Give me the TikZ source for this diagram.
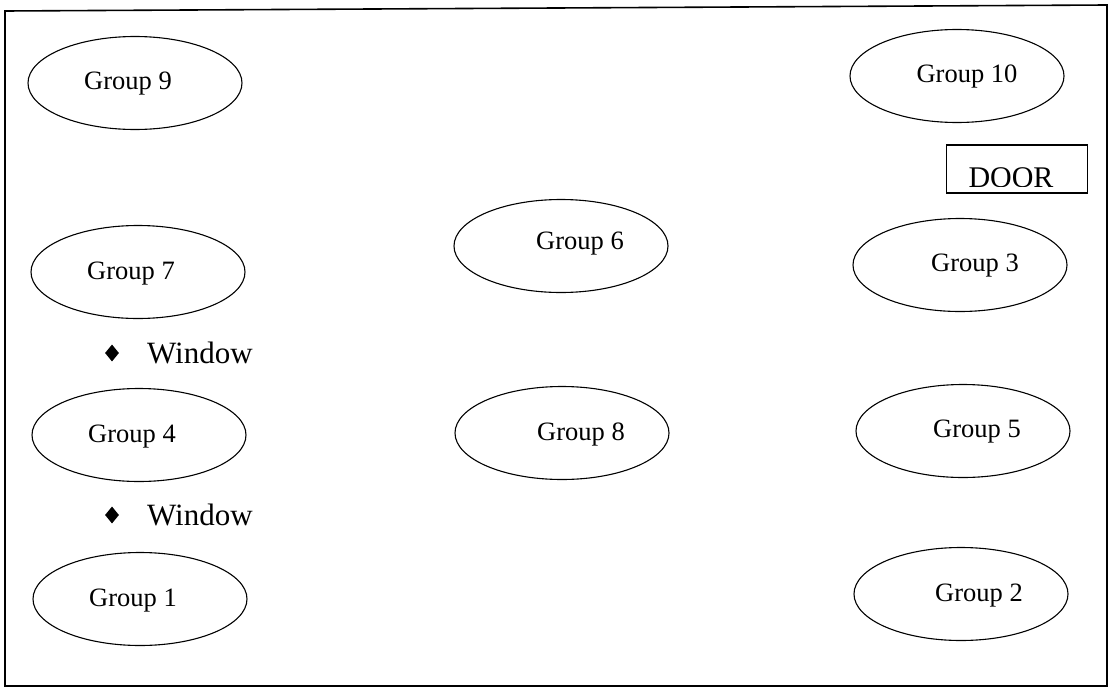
\documentclass[tikz,border=0pt]{standalone}
\usepackage{fontspec}
\setmainfont{Liberation Serif}
\usetikzlibrary{shapes.geometric}
\begin{document}
\begin{tikzpicture}[x=1pt,y=-1pt,
  grp/.style={draw, ellipse, line width=1.1pt, minimum width=214pt, minimum height=93pt, inner sep=0pt},
  glabel/.style={font=\fontsize{26.5}{30}\selectfont, inner sep=0pt},
  wlabel/.style={font=\fontsize{31}{35}\selectfont, inner sep=0pt, anchor=west},
  bullet/.style={diamond, fill=black, minimum width=14pt, minimum height=17pt, inner sep=0pt},
  doorbox/.style={draw, line width=1.1pt, minimum width=141pt, minimum height=48pt, inner sep=0pt}
]
\useasboundingbox (0,0) rectangle (1109,688);
\draw[line width=1.6pt] (5,11) -- (1107,5) -- (1107,686) -- (5,686) -- cycle;
% left column
\node[grp] (g9) at (135,83) {};
\node[glabel] (g9t) at (128,84) {Group 9};
\node[grp] (g7) at (138,272) {};
\node[glabel] (g7t) at (131,274) {Group 7};
\node[bullet] (b1) at (112,353) {};
\node[wlabel] (w1) at (147,353) {Window};
\node[grp] (g4) at (139,435) {};
\node[glabel] (g4t) at (132,437) {Group 4};
\node[bullet] (b2) at (112,515) {};
\node[wlabel] (w2) at (147,515) {Window};
\node[grp] (g1) at (140,599) {};
\node[glabel] (g1t) at (133,601) {Group 1};
% middle column
\node[grp] (g6) at (561,246) {};
\node[glabel] (g6t) at (580,244) {Group 6};
\node[grp] (g8) at (562,433) {};
\node[glabel] (g8t) at (581,435) {Group 8};
% right column
\node[grp] (g10) at (957,76) {};
\node[glabel] (g10t) at (967,77) {Group 10};
\node[doorbox] (door) at (1017,169) {};
\begin{scope}
\clip (947,145) rectangle (1088,186);
\node[font=\fontsize{30}{34}\selectfont, inner sep=0pt, anchor=base] (doort) at (1011,187) {DOOR};
\end{scope}
\node[grp] (g3) at (960,265) {};
\node[glabel] (g3t) at (975,266) {Group 3};
\node[grp] (g5) at (963,431) {};
\node[glabel] (g5t) at (977,432) {Group 5};
\node[grp] (g2) at (961,594) {};
\node[glabel] (g2t) at (979,596) {Group 2};
\end{tikzpicture}
\end{document}
